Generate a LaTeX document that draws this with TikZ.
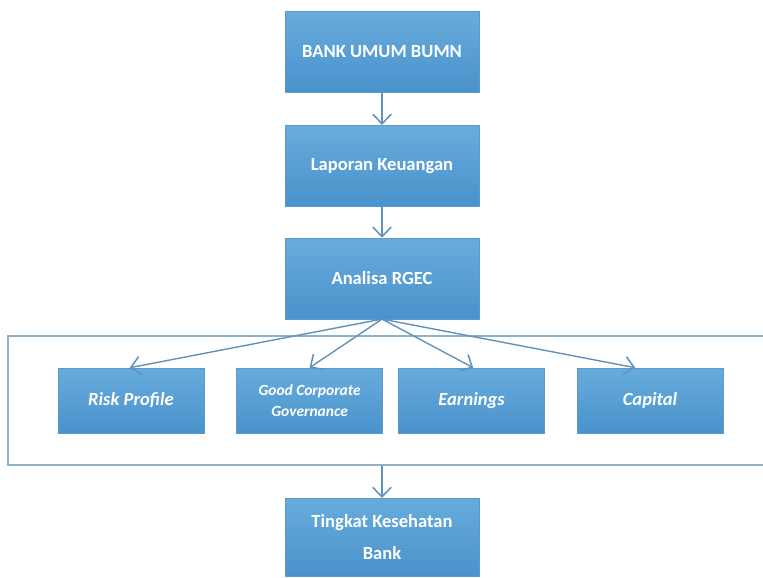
\documentclass[tikz,border=0pt]{standalone}
\usepackage{fontspec}
\setmainfont{Carlito}
\usepackage{xcolor}
\usepackage{tikz}
\usetikzlibrary{shapes,arrows.meta,positioning,calc}

\definecolor{boxtop}{HTML}{67ACDD}
\definecolor{boxbot}{HTML}{4A92CB}
\definecolor{boxline}{HTML}{5C9ACB}
\definecolor{arrowcol}{HTML}{6192BC}
\definecolor{framecol}{HTML}{8FB0C9}

\begin{document}
\begin{tikzpicture}[
    box/.style={rectangle, draw=boxline, top color=boxtop, bottom color=boxbot, minimum width=4.85cm, minimum height=2.02cm, align=center, text=white, font=\fontsize{13.2}{22.5}\selectfont\bfseries},
    rgec/.style={rectangle, draw=boxline, top color=boxtop, bottom color=boxbot, minimum width=3.65cm, minimum height=1.62cm, align=center, text=white, font=\fontsize{13.2}{16}\selectfont\bfseries\itshape},
    arrow/.style={-{Straight Barb[length=2.4mm, width=4.6mm, line width=1.1pt]}, draw=arrowcol, line width=1pt},
    frame/.style={rectangle, draw=framecol, line width=1pt, minimum width=19.2cm, minimum height=3.22cm},
]
\useasboundingbox (0,0) rectangle (19.075,-14.425);
\clip (0,0) rectangle (19.075,-14.425);

% Main flow
\node[box] (bank) at (9.55,-1.3) {BANK UMUM BUMN};
\node[box] (lap) at (9.55,-4.14) {Laporan Keuangan};
\node[box] (anal) at (9.55,-6.96) {Analisa RGEC};

\draw[arrow] (bank) -- (lap);
\draw[arrow] (lap) -- (anal);

% RGEC components
\node[frame] (grp) at (9.8,-10.01) {};
\node[rgec] (risk) at (3.275,-10.01) {Risk Profile};
\node[rgec, font=\fontsize{11}{15}\selectfont\bfseries\itshape] (gcg) at (7.74,-10.01) {Good Corporate\\Governance};
\node[rgec] (earn) at (11.79,-10.01) {Earnings};
\node[rgec] (cap) at (16.25,-10.01) {Capital};

\draw[arrow] (anal.south) -- ([xshift=-0.03cm]risk.north);
\draw[arrow] (anal.south) -- (gcg.north);
\draw[arrow] (anal.south) -- ([xshift=0.04cm]earn.north);
\draw[arrow] (anal.south) -- ([xshift=-0.37cm]cap.north);

% Result
\node[box, minimum height=1.95cm, anchor=north] (sehat) at (9.55,-12.45) {Tingkat Kesehatan\\Bank};
\draw[arrow] (grp.south -| anal) -- (sehat.north);

\end{tikzpicture}
\end{document}
